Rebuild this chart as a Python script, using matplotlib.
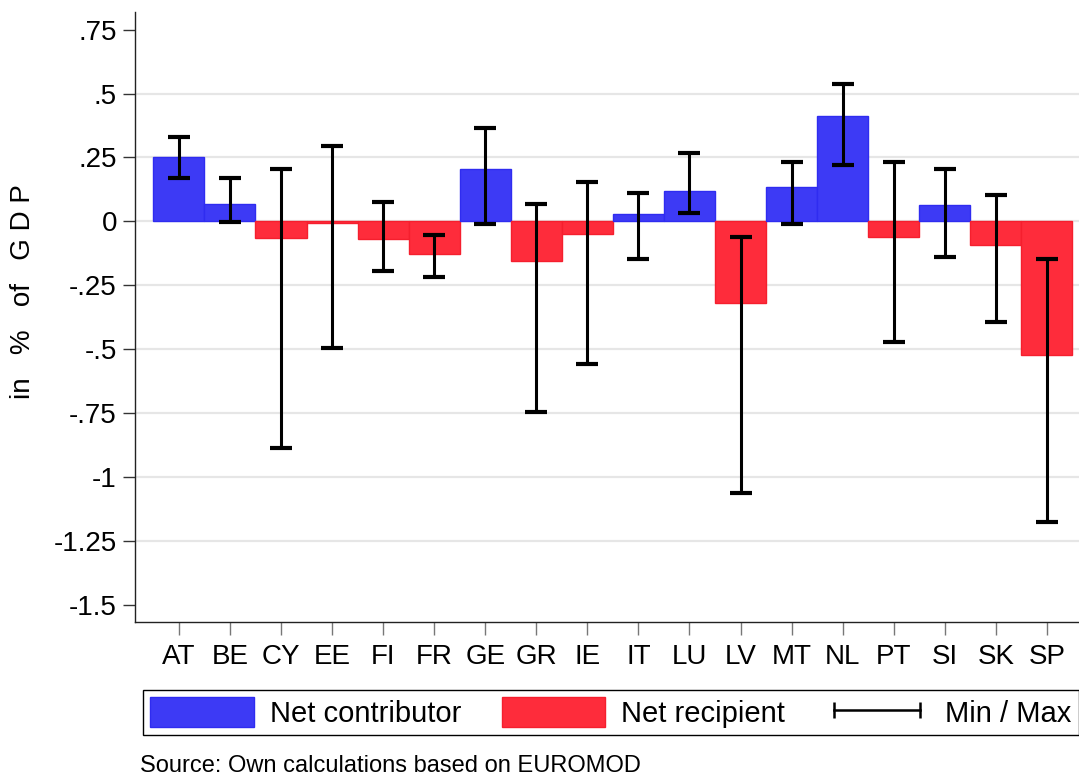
import matplotlib
matplotlib.use("Agg")
import matplotlib.pyplot as plt
import numpy as np
from matplotlib.patches import Patch
from matplotlib.lines import Line2D

plt.rcParams['font.family'] = ['Liberation Sans', 'DejaVu Sans']

countries = ["AT", "BE", "CY", "EE", "FI", "FR", "GE", "GR", "IE",
             "IT", "LU", "LV", "MT", "NL", "PT", "SI", "SK", "SP"]
net_effect = [0.252, 0.067, -0.064, -0.005, -0.070, -0.129, 0.206, -0.157, -0.048,
              0.029, 0.120, -0.321, 0.134, 0.412, -0.063, 0.065, -0.093, -0.522]
max_vals = [0.330, 0.170, 0.203, 0.295, 0.076, -0.054, 0.367, 0.068, 0.152,
            0.110, 0.268, -0.060, 0.231, 0.537, 0.231, 0.203, 0.102, -0.146]
min_vals = [0.170, -0.003, -0.888, -0.494, -0.195, -0.217, -0.009, -0.747, -0.559,
            -0.146, 0.033, -1.064, -0.010, 0.219, -0.474, -0.140, -0.394, -1.178]
yticks = [0.75, 0.5, 0.25, 0, -0.25, -0.5, -0.75, -1, -1.25, -1.5]
ytick_labels = [".75", ".5", ".25", "0", "-.25", "-.5", "-.75", "-1", "-1.25", "-1.5"]

BLUE = "#3d3af5"
BLUE_EDGE = "#2f2cf0"
RED = "#fe2c3b"
RED_EDGE = "#f51f2e"

W, H = 1079, 775
fig = plt.figure(figsize=(W / 100, H / 100), dpi=100)
ax = fig.add_axes([135 / W, 1 - 622 / H, 1 - 135 / W, (622 - 12) / H])

x = np.arange(len(countries))
vals = np.array(net_effect)
colors = [BLUE if v >= 0 else RED for v in vals]
edges = [BLUE_EDGE if v >= 0 else RED_EDGE for v in vals]
ax.bar(x, vals, width=1.0, color=colors, edgecolor=edges, linewidth=1.0, zorder=2)

lo = np.array(min_vals)
hi = np.array(max_vals)
center = (lo + hi) / 2
ax.errorbar(x, center, yerr=[center - lo, hi - center], fmt="none", ecolor="black",
            elinewidth=2.2, capsize=8, capthick=3.0, zorder=3)

ax.set_xlim(-0.86, 17.63)
ax.set_ylim(-1.568, 0.819)
ax.set_yticks(yticks)
ax.set_yticklabels(ytick_labels)
ax.set_xticks(x)
ax.set_xticklabels(countries)

ax.yaxis.grid(True, color="#e6e6e6", linewidth=1.6, zorder=0)
ax.set_axisbelow(True)
glines = ax.get_ygridlines()
glines[0].set_visible(False)
glines[-1].set_visible(False)

for s in ["top", "right"]:
    ax.spines[s].set_visible(False)
for s in ["left", "bottom"]:
    ax.spines[s].set_color("#222222")
    ax.spines[s].set_linewidth(1.0)

ax.tick_params(axis="y", length=9, width=1.0, color="#333333", labelsize=20, pad=4)
ax.tick_params(axis="x", length=9, width=1.0, color="#777777", labelsize=20, pad=7)

ax.set_ylabel("in   %   of   G D P", fontsize=20)
ax.yaxis.set_label_coords((36 - 135) / (W - 135), (622 - 292) / 610)

handles = [Patch(facecolor=BLUE, edgecolor=BLUE_EDGE, label="Net contributor"),
           Patch(facecolor=RED, edgecolor=RED_EDGE, label="Net recipient"),
           Line2D([0], [0], color="black", lw=1.8, marker="|", markersize=12,
                  markeredgewidth=1.8, label="Min / Max")]
leg = fig.legend(handles=handles, loc="center", ncol=3,
                 bbox_to_anchor=(143 / W, 1 - 738 / H, 1 - 143.5 / W, 51 / H),
                 mode="expand", fontsize=21, handlelength=3.55, handleheight=1.2,
                 handletextpad=0.55, columnspacing=1.2, borderpad=0.25,
                 numpoints=2, frameon=True, fancybox=False, borderaxespad=0.0,
                 framealpha=1.0)
leg.get_frame().set_edgecolor("black")
leg.get_frame().set_linewidth(1.0)

fig.text(140 / W, 1 - 772 / H, "Source: Own calculations based on EUROMOD",
         fontsize=17, va="baseline", ha="left")

fig.savefig("out.png", dpi=100)
